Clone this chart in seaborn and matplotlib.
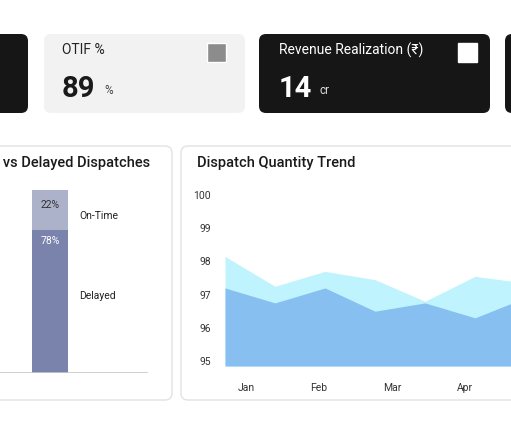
import numpy as np
import matplotlib.pyplot as plt
import seaborn as sns
from matplotlib.patches import FancyBboxPatch

sns.set_theme(style="white")
plt.rcParams['font.family'] = ['Roboto', 'DejaVu Sans']

# ---- data ----
kpi_otif = "89"
kpi_revenue = "14"
share_labels = ["Delayed", "On-Time"]
share_values = [78, 22]
trend_x = [0, 1, 2, 3, 4, 5, 6]
trend_dispatched = [98.15, 97.25, 97.7, 97.45, 96.8, 97.55, 97.35]
trend_delivered = [97.2, 96.75, 97.2, 96.5, 96.75, 96.3, 96.9]
month_labels = ["Jan", "Feb", "Mar", "Apr"]
month_pos = [0.42, 1.88, 3.34, 4.8]

W, H = 511, 422
fig = plt.figure(figsize=(W / 100, H / 100), dpi=100)
fig.patch.set_facecolor("white")

def px_axes(x0, y0, x1, y1):
    return fig.add_axes([x0 / W, 1 - y1 / H, (x1 - x0) / W, (y1 - y0) / H])

bg = fig.add_axes([0, 0, 1, 1])
bg.set_xlim(0, W)
bg.set_ylim(H, 0)
bg.axis("off")

def card(x0, y0, x1, y1, fc, ec="none"):
    bg.add_patch(FancyBboxPatch((x0, y0), x1 - x0, y1 - y0,
                                boxstyle="round,pad=0,rounding_size=7",
                                fc=fc, ec=ec, lw=1))

card(-20, 34, 28, 113, "#161616")
card(44, 34, 245, 113, "#f2f2f2")
card(259, 34, 490, 113, "#161616")
card(505, 34, 540, 113, "#161616")
card(-20, 146, 172, 400, "white", "#e2e2e2")
card(181, 146, 530, 400, "white", "#e2e2e2")

bg.text(62, 50, "OTIF %", fontsize=10, color="#222222", va="center")
bg.add_patch(plt.Rectangle((207, 43), 19, 19, fc="#8c8c8c"))
bg.text(62, 89, kpi_otif, fontsize=21, fontweight="bold", color="#1a1a1a", va="center")
bg.text(104, 90, "%", fontsize=8.5, color="#444444", va="center")
bg.text(279, 50, "Revenue Realization (₹)", fontsize=10, color="white", va="center")
bg.add_patch(plt.Rectangle((458, 43), 19, 19, fc="white"))
bg.text(279, 89, kpi_revenue, fontsize=21, fontweight="bold", color="white", va="center")
bg.text(320, 90, "cr", fontsize=8.5, color="#dddddd", va="center")

bg.text(150, 163, "On-Time vs Delayed Dispatches", fontsize=10.5, fontweight="medium",
        color="#1a1a1a", va="center", ha="right")
bg.text(197, 163, "Dispatch Quantity Trend", fontsize=10.5, fontweight="medium",
        color="#1a1a1a", va="center")

# ---- stacked bar ----
ax1 = px_axes(-20, 190, 148, 373)
ax1.bar([70], [share_values[0]], width=36, color="#7a83ac", lw=0)
ax1.bar([70], [share_values[1]], bottom=[share_values[0]], width=36, color="#adb2cb", lw=0)
ax1.set_xlim(0, 168)
ax1.set_ylim(0, 100)
ax1.axis("off")
ax1.axhline(0, color="#c8c8c8", lw=1.2)
ax1.text(70, share_values[0] + share_values[1] / 2 + 3, f"{share_values[1]}%",
         ha="center", va="center", fontsize=7.5, color="#333333")
ax1.text(70, share_values[0] - 6, f"{share_values[0]}%",
         ha="center", va="center", fontsize=7.5, color="white")
ax1.text(99, 86, share_labels[1], fontsize=7.5, color="#222222", va="center")
ax1.text(99, 42, share_labels[0], fontsize=7.5, color="#222222", va="center")

# ---- area trend ----
ax2 = px_axes(225, 190, 525, 366)
ax2.fill_between(trend_x, 94.85, trend_dispatched, color="#bff3fd", lw=0)
ax2.fill_between(trend_x, 94.85, trend_delivered, color="#86bff0", lw=0)
sns.lineplot(x=trend_x, y=trend_delivered, ax=ax2, color="#86bff0", lw=0)
ax2.set_xlim(0, 6.0)
ax2.set_ylim(94.85, 100.15)
ax2.set_yticks([95, 96, 97, 98, 99, 100])
ax2.set_xticks(month_pos)
ax2.set_xticklabels(month_labels)
ax2.tick_params(labelsize=7.5, colors="#333333", length=0, pad=12)
ax2.tick_params(axis="y", pad=10)
for s in ax2.spines.values():
    s.set_visible(False)
ax2.set_facecolor("none")

fig.savefig("out.png", dpi=100)
